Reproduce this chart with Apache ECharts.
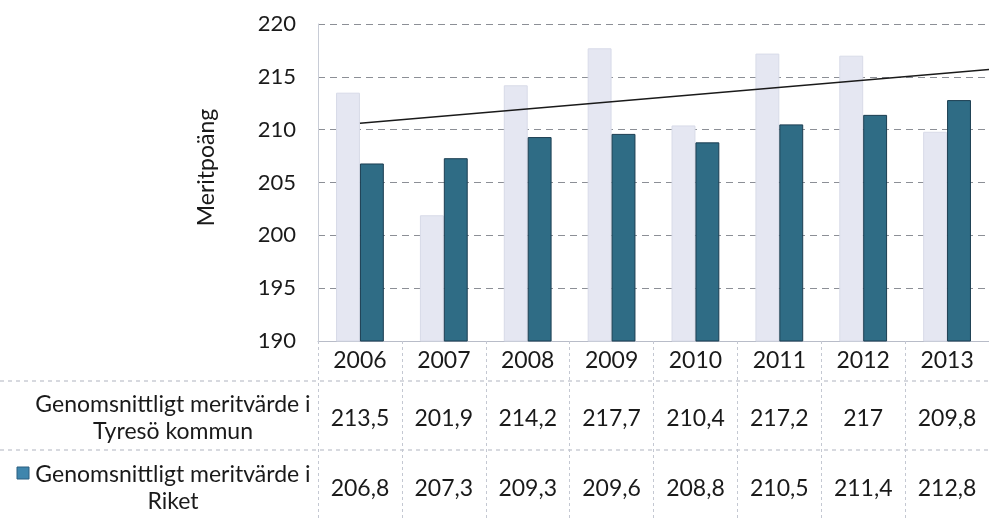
<!DOCTYPE html>
<html><head><meta charset="utf-8">
<script src="https://cdn.jsdelivr.net/npm/echarts@6/dist/echarts.min.js"></script>
<style>html,body{margin:0;padding:0;background:#fff}#c{width:989px;height:519px}</style>
</head><body><div id="c"></div>
<script>
const years = ['2006','2007','2008','2009','2010','2011','2012','2013'];
const tyreso = [213.5, 201.9, 214.2, 217.7, 210.4, 217.2, 217, 209.8];
const riket = [206.8, 207.3, 209.3, 209.6, 208.8, 210.5, 211.4, 212.8];
const trendX = [0.5, 8];
const trendY = [210.6, 215.7];
const yTicks = [190, 195, 200, 205, 210, 215, 220];
const rowLabels = ['Genomsnittligt meritvärde i\nTyresö kommun', 'Genomsnittligt meritvärde i\nRiket'];

const FONT = 'Lato';
const fmt = v => String(v).replace('.', ',');
const chart = echarts.init(document.getElementById('c'), null, {renderer: 'canvas'});
const grid = {left: 318, right: -9, top: 24, bottom: 178};
const hideAxis = {axisLine: {show: false}, axisTick: {show: false}, splitLine: {show: false}};
chart.setOption({
  animation: false,
  textStyle: {fontFamily: FONT},
  grid: grid,
  xAxis: [
    {type: 'category', data: years, position: 'bottom',
     axisLine: {show: true, lineStyle: {color: '#b8bcc8', width: 1}},
     axisTick: {show: true, length: 178, interval: 0, lineStyle: {color: '#c4c8d2', type: [3, 3]}},
     axisLabel: {fontSize: 23, color: '#1a1a1a', margin: 8, fontFamily: FONT}},
    Object.assign({type: 'category', data: years, position: 'bottom', offset: 58,
     axisLabel: {fontSize: 23, color: '#1a1a1a', margin: 8, fontFamily: FONT, interval: 0,
       formatter: (v, i) => fmt(tyreso[i])}}, hideAxis),
    Object.assign({type: 'category', data: years, position: 'bottom', offset: 128,
     axisLabel: {fontSize: 23, color: '#1a1a1a', margin: 8, fontFamily: FONT, interval: 0,
       formatter: (v, i) => fmt(riket[i])}}, hideAxis),
    Object.assign({type: 'value', min: 0, max: 8, show: false}, hideAxis)
  ],
  yAxis: {type: 'value', min: yTicks[0], max: yTicks[yTicks.length - 1], interval: 5,
    name: 'Meritpoäng', nameLocation: 'middle', nameGap: 100, nameRotate: 90,
    nameTextStyle: {fontSize: 23, color: '#1a1a1a', fontFamily: FONT, padding: [0, 0, 0, 30]},
    axisLine: {show: true, lineStyle: {color: '#c8ccd6'}},
    axisTick: {show: false},
    axisLabel: {fontSize: 22, color: '#1a1a1a', margin: 22, fontFamily: FONT},
    splitLine: {show: true, lineStyle: {color: '#8c8f96', type: [7, 5], width: 1}}},
  series: [
    {type: 'bar', name: 'Tyresö', data: tyreso, barGap: '0%', barCategoryGap: '43%',
     itemStyle: {color: '#e5e7f2', borderColor: '#d8dbe8', borderWidth: 1}},
    {type: 'bar', name: 'Riket', data: riket,
     itemStyle: {color: '#2f6c85', borderColor: '#1c3e52', borderWidth: 1}},
    {type: 'line', xAxisIndex: 3, data: trendX.map((x, i) => [x, trendY[i]]),
     symbol: 'none', lineStyle: {color: '#1a1a1a', width: 1.5}, z: 5}
  ],
  graphic: [
    {type: 'line', shape: {x1: 0, y1: 381, x2: 989, y2: 381}, style: {stroke: '#b0b4bf', lineDash: [4, 4], lineWidth: 1}},
    {type: 'line', shape: {x1: 0, y1: 450, x2: 989, y2: 450}, style: {stroke: '#b0b4bf', lineDash: [4, 4], lineWidth: 1}},
    {type: 'text', x: 173, y: 418, style: {text: rowLabels[0], font: '23px ' + FONT, fill: '#1a1a1a', align: 'center', verticalAlign: 'middle', lineHeight: 27}},
    {type: 'text', x: 173, y: 488, style: {text: rowLabels[1], font: '23px ' + FONT, fill: '#1a1a1a', align: 'center', verticalAlign: 'middle', lineHeight: 27}},
    {type: 'rect', shape: {x: 17, y: 467, width: 12, height: 12}, style: {fill: '#3f86ad', stroke: '#2a5f80', lineWidth: 1}}
  ]
});
</script></body></html>
